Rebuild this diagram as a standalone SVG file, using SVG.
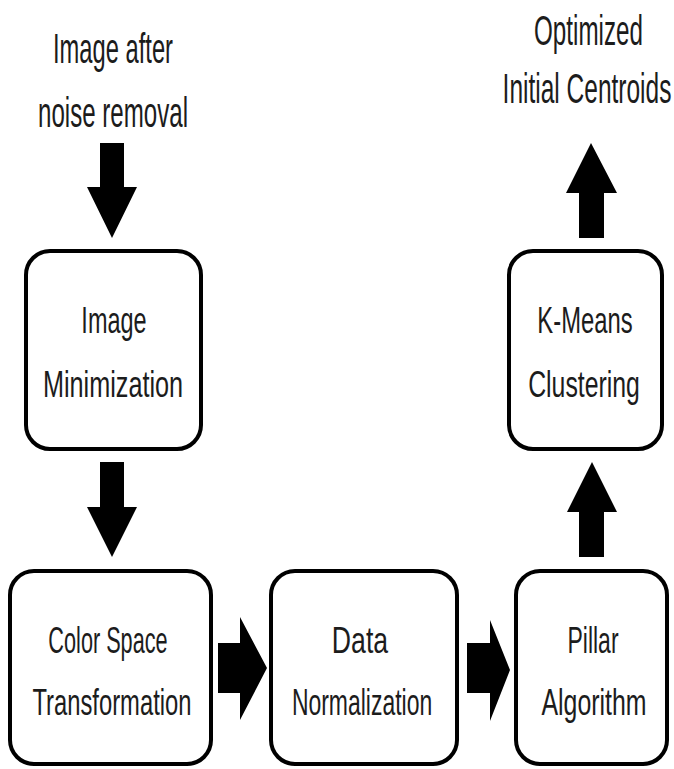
<svg xmlns="http://www.w3.org/2000/svg" width="674" height="769" viewBox="0 0 674 769">
<style>
.box{fill:#fff;stroke:#000;stroke-width:4}
.arr{fill:#000;stroke:none}
text{font-family:"Liberation Sans",Arial,sans-serif;fill:#1c1c1c;text-anchor:middle}
.out{font-size:43px}
.lbl{font-size:37px}
</style>
<rect width="674" height="769" fill="#fff"/>
<g id="input" transform="scale(0.75,1)">
<text class="out" x="150.7" y="63" textLength="160" lengthAdjust="spacingAndGlyphs">Image after</text>
<text class="out" x="150.7" y="127" textLength="200" lengthAdjust="spacingAndGlyphs">noise removal</text>
</g>
<g id="output" transform="scale(0.55,1)">
<text class="out" x="1070" y="45" textLength="198" lengthAdjust="spacingAndGlyphs">Optimized</text>
<text class="out" x="1067.3" y="103" textLength="307" lengthAdjust="spacingAndGlyphs">Initial Centroids</text>
</g>
<g id="image-minimization">
<rect class="box" x="26" y="251" width="175" height="198" rx="24"/>
<g transform="scale(0.75,1)">
<text class="lbl" x="152" y="333" textLength="87" lengthAdjust="spacingAndGlyphs">Image</text>
<text class="lbl" x="150.7" y="397" textLength="187" lengthAdjust="spacingAndGlyphs">Minimization</text>
</g>
</g>
<g id="kmeans">
<rect class="box" x="509" y="251" width="153" height="198" rx="24"/>
<g transform="scale(0.75,1)">
<text class="lbl" x="780" y="333" textLength="127" lengthAdjust="spacingAndGlyphs">K-Means</text>
<text class="lbl" x="778.7" y="397" textLength="149" lengthAdjust="spacingAndGlyphs">Clustering</text>
</g>
</g>
<g id="color-space">
<rect class="box" x="10" y="571" width="201" height="193" rx="24"/>
<g transform="scale(0.75,1)">
<text class="lbl" x="144" y="653" textLength="159" lengthAdjust="spacingAndGlyphs">Color Space</text>
<text class="lbl" x="149.3" y="715" textLength="212" lengthAdjust="spacingAndGlyphs">Transformation</text>
</g>
</g>
<g id="data-normalization">
<rect class="box" x="271" y="571" width="186" height="193" rx="24"/>
<g transform="scale(0.75,1)">
<text class="lbl" x="480" y="653" textLength="75" lengthAdjust="spacingAndGlyphs">Data</text>
<text class="lbl" x="482.7" y="715" textLength="187" lengthAdjust="spacingAndGlyphs">Normalization</text>
</g>
</g>
<g id="pillar">
<rect class="box" x="516" y="571" width="151" height="193" rx="24"/>
<g transform="scale(0.75,1)">
<text class="lbl" x="790.7" y="653" textLength="68" lengthAdjust="spacingAndGlyphs">Pillar</text>
<text class="lbl" x="792" y="715" textLength="140" lengthAdjust="spacingAndGlyphs">Algorithm</text>
</g>
</g>
<g id="connectors">
<polygon class="arr" points="100,143 124,143 124,187 137,187 112,238 87,187 100,187"/>
<polygon class="arr" points="100,462 124,462 124,507 137,507 112,557 87,507 100,507"/>
<polygon class="arr" points="591,143 617,193 604,193 604,238 579,238 579,193 566,193"/>
<polygon class="arr" points="592,462 617,512 604,512 604,557 579,557 579,512 567,512"/>
<polygon class="arr" points="218,643 240,643 240,617 267,668 240,720 240,693 218,693"/>
<polygon class="arr" points="467,643 490,643 490,620 510,670 490,721 490,693 467,693"/>
</g>
</svg>
